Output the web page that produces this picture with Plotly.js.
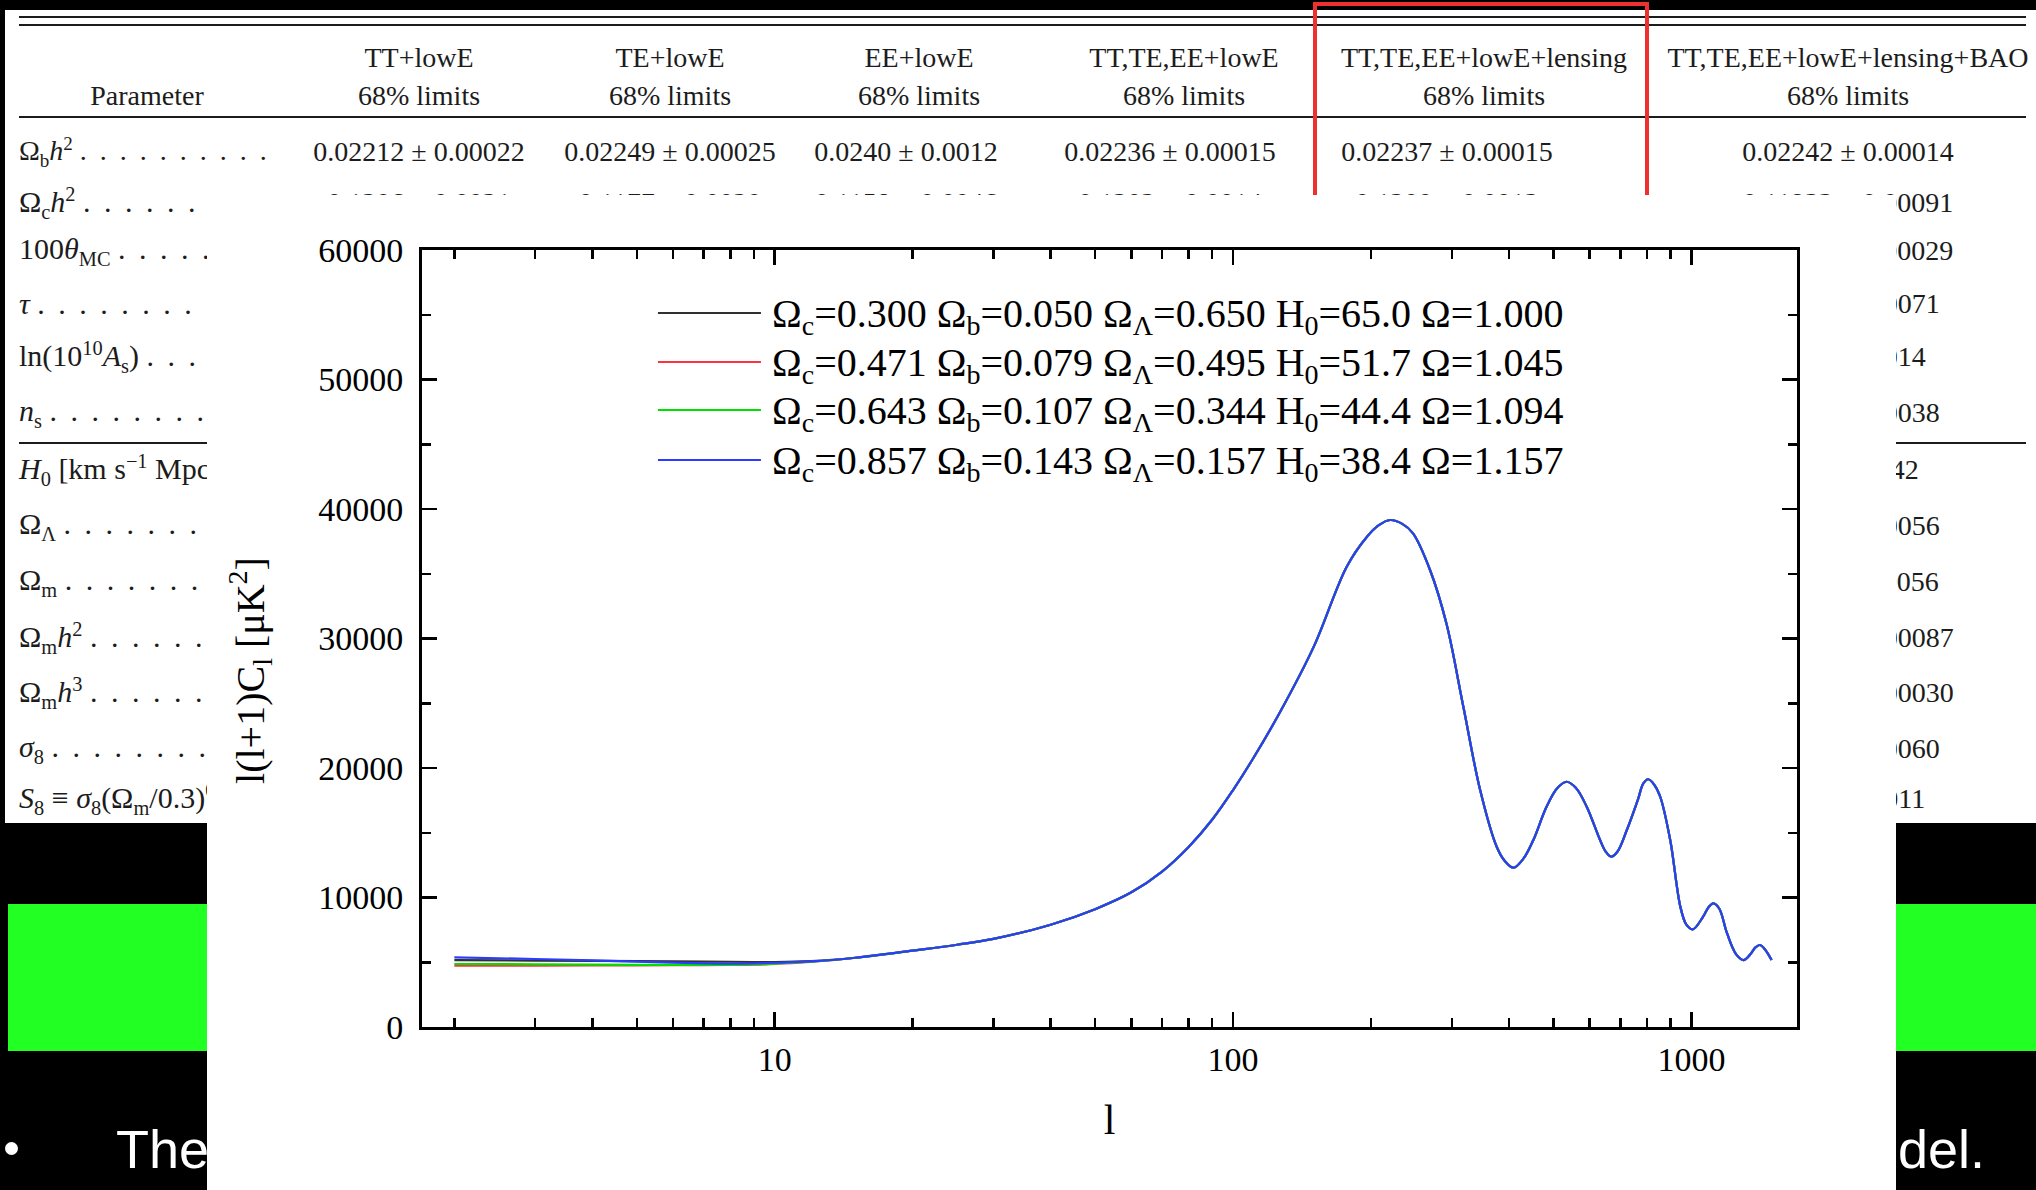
<!DOCTYPE html>
<html><head><meta charset="utf-8">
<script src="https://cdn.plot.ly/plotly-3.0.1.min.js"></script>
<style>
html,body{margin:0;padding:0;background:#000;width:2036px;height:1190px;overflow:hidden;}
#tbl{position:absolute;left:5px;top:10px;width:2031px;height:813px;background:#fff;font-family:'Liberation Serif',serif;color:#1c1c1c;font-size:28px;}
.c{position:absolute;white-space:nowrap;transform:translate(-50%,-50%);font-size:28px;line-height:34px;}
.lft{position:absolute;white-space:nowrap;transform:translateY(-50%);font-size:28px;line-height:34px;}
.big{font-size:30px;}
.dots{letter-spacing:3px;}
.rule{position:absolute;background:#1c1c1c;}
sub,sup{font-size:68%;line-height:1;}
#redbox{position:absolute;left:1313px;top:2px;width:328px;height:240px;border:4px solid #ee3030;}
#green{position:absolute;left:8px;top:904px;width:2028px;height:147px;background:#22ff22;}
#bullet{position:absolute;left:5px;top:1142px;width:13px;height:13px;border-radius:50%;background:#fff;}
.bt{position:absolute;font-family:'Liberation Sans',Arial,sans-serif;font-size:54px;line-height:54px;color:#fff;white-space:nowrap;}
#chart{position:absolute;left:207px;top:195px;width:1689px;height:995px;background:#fff;}
</style>
</head><body>
<div id="tbl"></div>
<div id="redbox"></div>
<div id="green"></div>
<div id="bullet"></div>
<div class="bt" style="left:116px;top:1122px;">The</div>
<div class="bt" style="right:51px;top:1122px;">model.</div>
<div id="chart"></div>
<script>
// ---------- background slide table ----------
const headerLine1 = ["", "TT+lowE", "TE+lowE", "EE+lowE", "TT,TE,EE+lowE", "TT,TE,EE+lowE+lensing", "TT,TE,EE+lowE+lensing+BAO"];
const headerLine2 = ["Parameter", "68% limits", "68% limits", "68% limits", "68% limits", "68% limits", "68% limits"];
const rowNames = [
  "Ω<sub>b</sub><i>h</i><sup>2</sup>",
  "Ω<sub>c</sub><i>h</i><sup>2</sup>",
  "100<i>θ</i><sub>MC</sub>",
  "<i>τ</i>",
  "ln(10<sup>10</sup><i>A</i><sub>s</sub>)",
  "<i>n</i><sub>s</sub>",
  "<i>H</i><sub>0</sub> [km s<sup>−1</sup> Mpc<sup>−1</sup>]",
  "Ω<sub>Λ</sub>",
  "Ω<sub>m</sub>",
  "Ω<sub>m</sub><i>h</i><sup>2</sup>",
  "Ω<sub>m</sub><i>h</i><sup>3</sup>",
  "<i>σ</i><sub>8</sub>",
  "<i>S</i><sub>8</sub> ≡ <i>σ</i><sub>8</sub>(Ω<sub>m</sub>/0.3)<sup>0.5</sup>"
];
const rowDots = [10, 7, 5, 10, 5, 9, 0, 8, 9, 6, 6, 9, 0];
const firstRowValues = ["0.02212 ± 0.00022", "0.02249 ± 0.00025", "0.0240 ± 0.0012", "0.02236 ± 0.00015", "0.02237 ± 0.00015", "0.02242 ± 0.00014"];
const secondRowValues = ["0.1206 ± 0.0021", "0.1177 ± 0.0020", "0.1158 ± 0.0046", "0.1202 ± 0.0014", "0.1200 ± 0.0012", "0.11933 ± 0.00091"];
const baoValues = ["0.02242 ± 0.00014", "0.11933 ± 0.00091", "1.04119 ± 0.00029", "0.0561 ± 0.0071", "3.047 ± 0.014", "0.9665 ± 0.0038", "67.66 ± 0.42", "0.6889 ± 0.0056", "0.3111 ± 0.0056", "0.14240 ± 0.00087", "0.09635 ± 0.00030", "0.8102 ± 0.0060", "0.825 ± 0.011"];

(function buildTable(){
  const t = document.getElementById('tbl');
  const colX = [142, 414, 665, 914, 1179, 1479, 1843];
  const valX = [414, 665, 901, 1165, 1442, 1843];
  const rowY = [142, 193, 241, 294, 347, 403, 460, 516, 572, 628, 683, 739, 789];
  function add(cls, html, x, y){
    const d = document.createElement('div');
    d.className = cls; d.innerHTML = html;
    d.style.left = x + 'px'; d.style.top = y + 'px';
    t.appendChild(d);
  }
  function rule(x, y, w, h){
    const d = document.createElement('div'); d.className = 'rule';
    Object.assign(d.style, {left:x+'px', top:y+'px', width:w+'px', height:h+'px'}); t.appendChild(d);
  }
  rule(14, 6, 2007, 2); rule(14, 14, 2007, 2); rule(14, 106, 2007, 2); rule(14, 432, 2007, 2);
  for (let i = 0; i < headerLine1.length; i++) {
    if (headerLine1[i]) add('c', headerLine1[i], colX[i], 48);
    add('c', headerLine2[i], colX[i], 86);
  }
  for (let r = 0; r < rowNames.length; r++) {
    const dots = rowDots[r] ? ' <span class="dots">' + Array(rowDots[r]).fill('.').join(' ') + '</span>' : '';
    add(r === 0 ? 'lft' : 'lft big', rowNames[r] + dots, 14, rowY[r]);
  }
  for (let i = 0; i < firstRowValues.length; i++) add('c', firstRowValues[i], valX[i], rowY[0]);
  for (let i = 0; i < secondRowValues.length; i++) add('c', secondRowValues[i], valX[i], rowY[1]);
  for (let r = 2; r < baoValues.length; r++) add('c', baoValues[r], valX[5], rowY[r]);
})();

// ---------- chart data ----------
const ell = [2,3,4,5,6,7,8,9,10,12,15,20,25,30,40,50,60,70,80,90,100,110,127,150,177,196,208,220,234,247,269,292,318,346,376,392,409,430,452,483,510,534,560,591,632,650,668,690,723,765,785,805,830,855,899,946,975,1007,1060,1090,1117,1150,1196,1250,1299,1340,1380,1412,1450,1496];
const highEll = [5350,5900,6350,6800,7900,9100,10400,12000,13900,16000,18300,20600,24400,29370,35545,37860,38750,39150,38850,38120,35290,31170,24730,18300,13920,12800,12300,13000,14440,17010,18450,18940,18450,17010,14440,13550,13150,13550,15210,17600,18800,19130,18700,17780,14440,9290,7900,7540,8500,9250,9550,9150,7240,5650,5170,5550,6150,6330,5950,5170];
const lowBlack = [5170,5130,5100,5080,5060,5050,5040,5020,5010,5080];
const lowRed   = [4735,4740,4750,4760,4770,4780,4790,4810,4880,5030];
const lowGreen = [4865,4840,4820,4800,4790,4790,4800,4830,4900,5040];
const lowBlue  = [5380,5250,5150,5050,4970,4920,4900,4920,4960,5060];
const seriesNames = [
  "Ω<sub>c</sub>=0.300 Ω<sub>b</sub>=0.050 Ω<sub>Λ</sub>=0.650 H<sub>0</sub>=65.0 Ω=1.000",
  "Ω<sub>c</sub>=0.471 Ω<sub>b</sub>=0.079 Ω<sub>Λ</sub>=0.495 H<sub>0</sub>=51.7 Ω=1.045",
  "Ω<sub>c</sub>=0.643 Ω<sub>b</sub>=0.107 Ω<sub>Λ</sub>=0.344 H<sub>0</sub>=44.4 Ω=1.094",
  "Ω<sub>c</sub>=0.857 Ω<sub>b</sub>=0.143 Ω<sub>Λ</sub>=0.157 H<sub>0</sub>=38.4 Ω=1.157"
];
const seriesColors = ["#303030", "#ff3040", "#00e000", "#2a3cff"];
const lowParts = [lowBlack, lowRed, lowGreen, lowBlue];
const yTicks = [0,10000,20000,30000,40000,50000,60000];
const xTicks = [10,100,1000];
const xMinor = [2,3,4,5,6,7,8,9,20,30,40,50,60,70,80,90,200,300,400,500,600,700,800,900];

const FONT = "Liberation Serif, Times New Roman, serif";
const traces = lowParts.map((low, i) => ({
  x: ell, y: low.concat(highEll), type: 'scatter', mode: 'lines', name: seriesNames[i],
  line: {color: seriesColors[i], width: 2.2, shape: 'spline', smoothing: 1}
}));

// legend drawn as sample lines + labels (paper coordinates)
const legendRowsY = [0.9189, 0.8559, 0.7941, 0.7297];
const legendShapes = seriesColors.map((c, i) => ({
  type: 'line', xref: 'paper', yref: 'paper', x0: 0.1716, x1: 0.2465,
  y0: legendRowsY[i], y1: legendRowsY[i], line: {color: c, width: 2}
}));
const legendLabels = seriesNames.map((s, i) => ({
  text: s, xref: 'paper', yref: 'paper', x: 0.2532, y: legendRowsY[i] - 0.004,
  xanchor: 'left', yanchor: 'middle', showarrow: false,
  font: {family: FONT, size: 40, color: '#000'}
}));

const layout = {
  width: 1689, height: 995,
  margin: {l: 215, r: 99, t: 55, b: 163},
  paper_bgcolor: '#fff', plot_bgcolor: '#fff',
  font: {family: FONT, color: '#000'},
  showlegend: false,
  xaxis: {type: 'log', range: [0.2304, 3.2304], showline: true, linecolor: '#000', linewidth: 3,
          mirror: 'allticks', ticks: 'inside', ticklen: 15, tickwidth: 2.5, tickcolor: '#000',
          tickmode: 'array', tickvals: xTicks, ticktext: xTicks.map(String),
          tickfont: {family: FONT, size: 34, color: '#000'}, ticklabelstandoff: 0,
          showgrid: false, zeroline: false,
          minor: {ticks: 'inside', ticklen: 9, tickwidth: 2.5, tickcolor: '#000', tickmode: 'array', tickvals: xMinor, showgrid: false},
          title: {text: 'l', font: {family: FONT, size: 42, color: '#000'}, standoff: 28}},
  yaxis: {range: [0, 60000], showline: true, linecolor: '#000', linewidth: 3,
          mirror: 'allticks', ticks: 'inside', ticklen: 15, tickwidth: 2.5, tickcolor: '#000',
          tickmode: 'array', tickvals: yTicks, ticktext: yTicks.map(String),
          tickfont: {family: FONT, size: 34, color: '#000'}, ticklabelstandoff: 9,
          showgrid: false, zeroline: false,
          minor: {ticks: 'inside', ticklen: 9, tickwidth: 2.5, tickcolor: '#000', dtick: 5000, showgrid: false}},
  shapes: legendShapes,
  annotations: [{
    text: 'l(l+1)C<sub>l</sub> [μK<sup>2</sup>]', textangle: -90, xref: 'paper', yref: 'paper',
    x: -0.1251, y: 0.4595, xanchor: 'center', yanchor: 'middle', showarrow: false,
    font: {family: FONT, size: 40, color: '#000'}
  }].concat(legendLabels)
};
Plotly.newPlot('chart', traces, layout, {displayModeBar: false, staticPlot: true});
</script>
</body></html>
